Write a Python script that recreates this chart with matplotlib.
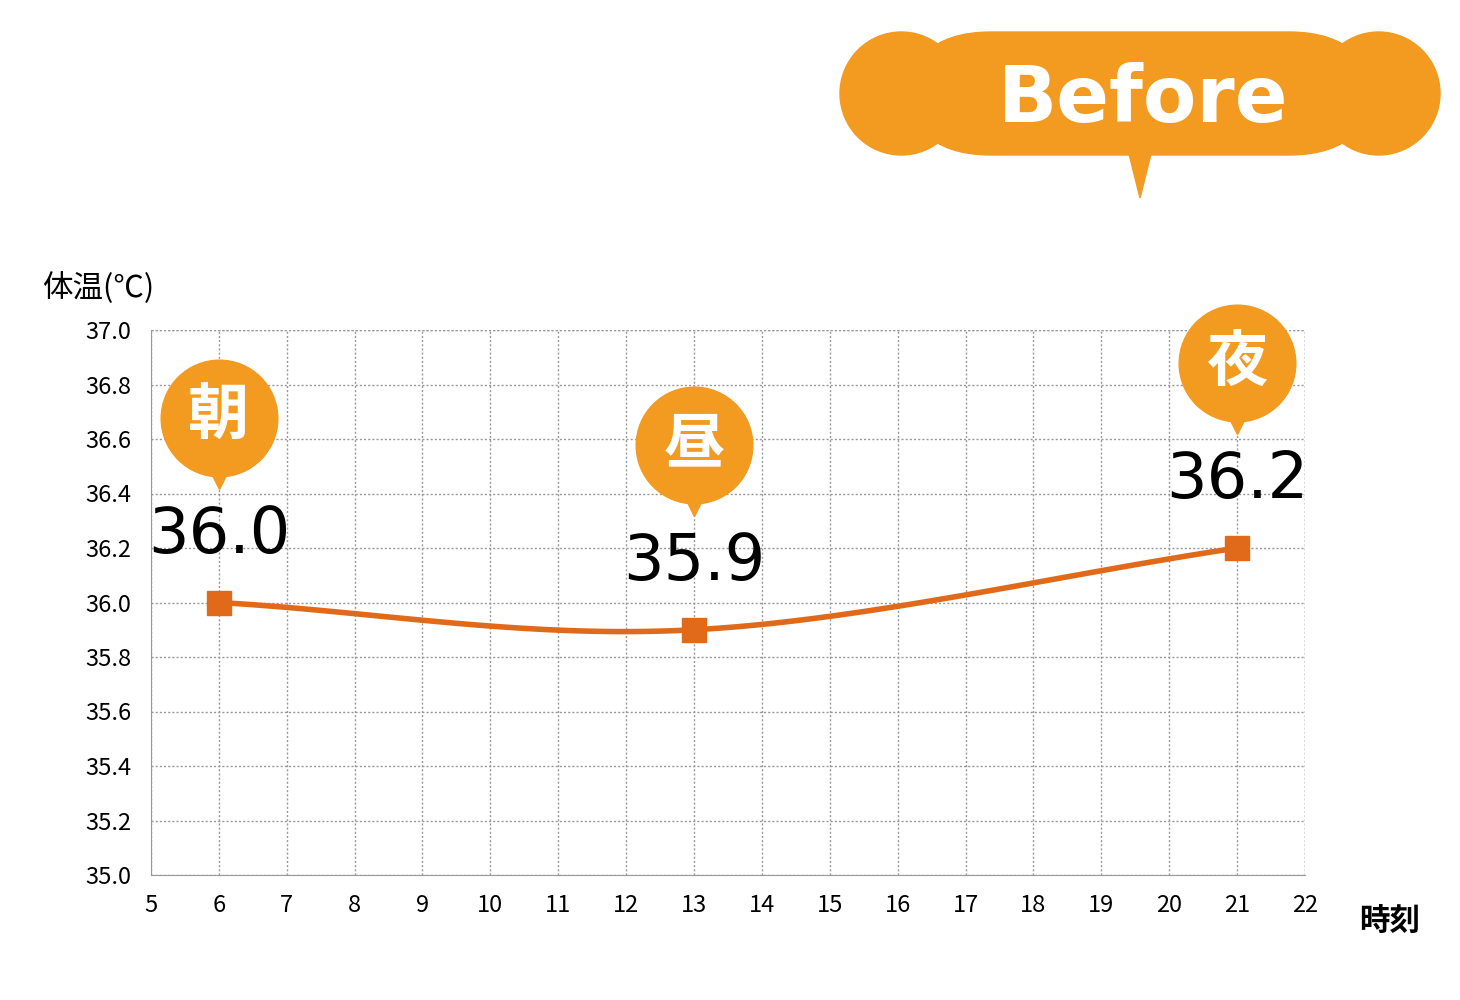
import matplotlib
matplotlib.use("Agg")
import matplotlib.pyplot as plt
import numpy as np
from matplotlib import transforms
from matplotlib.patches import FancyBboxPatch, Polygon

plt.rcParams['font.family'] = ['Noto Sans CJK JP', 'DejaVu Sans']

hours = [6, 13, 21]
temps = [36.0, 35.9, 36.2]
labels = ["36.0", "35.9", "36.2"]
times = ["朝", "昼", "夜"]
xticks = list(range(5, 23))
yticks = [35.0 + 0.2 * i for i in range(11)]

ORANGE = "#F39A21"
LINE = "#E06A1A"

fig = plt.figure(figsize=(14.6, 10), dpi=100)
ax = fig.add_axes([0.1034, 0.125, 0.7904, 0.545])
ax.set_xlim(5, 22)
ax.set_ylim(35.0, 37.0)
ax.set_xticks(xticks)
ax.set_yticks(yticks)
ax.set_yticklabels([f"{v:.1f}" for v in yticks])
ax.tick_params(length=0, labelsize=17, pad=14)
ax.grid(True, color="#999999", linestyle=(0, (1.5, 1.5)), linewidth=1)
for s in ["top", "right"]:
    ax.spines[s].set_visible(False)
for s in ["left", "bottom"]:
    ax.spines[s].set_color("#999999")
ax.axhline(37.0, color="#999999", linestyle=(0, (1.5, 1.5)), lw=1)
ax.axvline(22, color="#999999", linestyle=(0, (1.5, 1.5)), lw=1)

# smooth curve (Catmull-Rom)
P = np.array(list(zip(hours, temps)), dtype=float)
ext = np.vstack([2 * P[0] - P[1], P, 2 * P[-1] - P[-2]])
xs, ys = [], []
for i in range(1, len(ext) - 2):
    p0, p1, p2, p3 = ext[i - 1], ext[i], ext[i + 1], ext[i + 2]
    t = np.linspace(0, 1, 60)[:, None]
    c = 0.5 * ((2 * p1) + (-p0 + p2) * t + (2 * p0 - 5 * p1 + 4 * p2 - p3) * t**2
               + (-p0 + 3 * p1 - 3 * p2 + p3) * t**3)
    xs.extend(c[:, 0]); ys.extend(c[:, 1])
ax.plot(xs, ys, color=LINE, lw=4, zorder=3)
ax.plot(hours, temps, 's', color=LINE, ms=17, zorder=4)

for h, t, lab, tm in zip(hours, temps, labels, times):
    tr_c = transforms.offset_copy(ax.transData, fig=fig, x=0, y=185, units='dots')
    tr_p = transforms.offset_copy(ax.transData, fig=fig, x=0, y=122, units='dots')
    tr_l = transforms.offset_copy(ax.transData, fig=fig, x=0, y=68, units='dots')
    ax.plot([h], [t], 'o', color=ORANGE, ms=84, transform=tr_c, clip_on=False, zorder=5)
    ax.plot([h], [t], 'v', color=ORANGE, ms=12, transform=tr_p, clip_on=False, zorder=5)
    ax.text(h, t, tm, transform=tr_c, ha='center', va='center', color='white',
            fontsize=44, fontweight='bold', zorder=6, clip_on=False)
    ax.text(h, t, lab, transform=tr_l, ha='center', va='center', color='black',
            fontsize=46, family=['DejaVu Sans'], zorder=6, clip_on=False)

fig.text(42 / 1460, 1 - 288 / 1000, "体温(℃)", fontsize=22, ha='left', va='center')
fig.text(1390 / 1460, 1 - 922 / 1000, "時刻", fontsize=22, fontweight='bold', ha='center', va='center')

# Before bubble
bx0, by0, bw, bh = 840 / 1460, 1 - 155 / 1000, 600 / 1460, 123 / 1000
box = FancyBboxPatch((bx0 + 0.042, by0), bw - 0.084, bh,
                     boxstyle="round,pad=0,rounding_size=0.0615",
                     transform=fig.transFigure, color=ORANGE,
                     mutation_aspect=1.46)
fig.patches.append(box)
from matplotlib.patches import Ellipse
for cx in (bx0 + 0.042, bx0 + bw - 0.042):
    fig.patches.append(Ellipse((cx, by0 + bh / 2), 0.084, bh, transform=fig.transFigure, color=ORANGE))
fig.patches.append(Polygon([(1128 / 1460, 1 - 150 / 1000), (1152 / 1460, 1 - 150 / 1000),
                            (1140 / 1460, 1 - 198 / 1000)], closed=True,
                           transform=fig.transFigure, color=ORANGE))
fig.text(1143 / 1460, 1 - 100 / 1000, "B e f o r e".replace(" ", "\u2009") if False else "Before",
         fontsize=56, color='white', fontweight='bold', ha='center', va='center',
         family=['DejaVu Sans'])

fig.savefig("out.png", dpi=100)
